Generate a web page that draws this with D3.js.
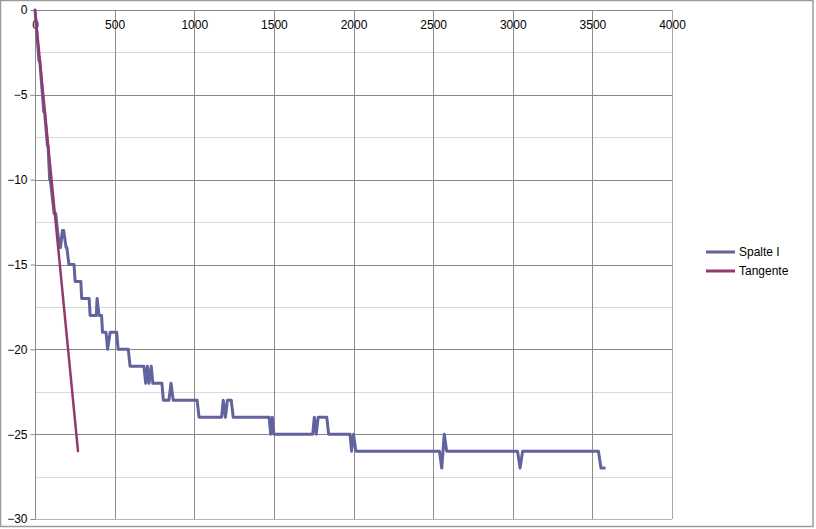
<!DOCTYPE html>
<html>
<head>
<meta charset="utf-8">
<script src="https://cdn.jsdelivr.net/npm/d3@7"></script>
<style>
  html, body { margin: 0; padding: 0; background: #ffffff; }
  svg { display: block; }
  text { font-family: "Liberation Sans", Arial, sans-serif; fill: #000; }
</style>
</head>
<body>
<svg id="chart" width="816" height="529"></svg>
<script>
// ---- data ----
const seriesNames = ["Spalte I", "Tangente"];
const spalteX = [0, 25, 30, 55, 60, 78, 82, 92, 96, 120, 130, 153, 160, 172, 180, 195, 200, 213, 245, 252, 288, 293, 340, 346, 385, 390, 402, 418, 424, 446, 456, 472, 513, 522, 586, 597, 684, 695, 706, 716, 730, 740, 797, 806, 841, 854, 868, 1018, 1030, 1172, 1182, 1196, 1208, 1232, 1245, 1470, 1480, 1490, 1500, 1507, 1744, 1754, 1766, 1778, 1832, 1844, 1978, 1988, 2000, 2015, 2540, 2554, 2570, 2585, 3030, 3046, 3062, 3538, 3554, 3575];
const spalteY = [0, -3, -3, -6, -6, -8, -8, -10, -10, -12, -12, -14, -14, -13, -13, -14, -14, -15, -15, -16, -16, -17, -17, -18, -18, -17, -18, -18, -19, -19, -20, -19, -19, -20, -20, -21, -21, -22, -21, -22, -21, -22, -22, -23, -23, -22, -23, -23, -24, -24, -23, -24, -23, -23, -24, -24, -25, -24, -25, -25, -25, -24, -25, -24, -24, -25, -25, -26, -25, -26, -26, -27, -25, -26, -26, -27, -26, -26, -27, -27];
const tangentX = [0, 270];
const tangentY = [0, -26];
const xTicks = [0, 500, 1000, 1500, 2000, 2500, 3000, 3500, 4000];
const yTicks = [0, -5, -10, -15, -20, -25, -30];
const yMinorTicks = [-2.5, -7.5, -12.5, -17.5, -22.5, -27.5];
const colors = ["#62629f", "#923a6a"];

// ---- layout ----
const svg = d3.select("#chart");
const L = 35, R = 672, T = 10, B = 519;
const x = d3.scaleLinear().domain([0, 4000]).range([L, R]);
const y = d3.scaleLinear().domain([0, -30]).range([T, B]);

// outer frame
svg.append("rect").attr("x", 0.5).attr("y", 0.5).attr("width", 812.5).attr("height", 526)
  .attr("fill", "#fff").attr("stroke", "#9a9a9a").attr("stroke-width", 1.5);

const crisp = v => Math.round(v) + 0.5;

// minor horizontal grid
svg.append("g").selectAll("line").data(yMinorTicks).join("line")
  .attr("x1", L).attr("x2", R)
  .attr("y1", d => crisp(y(d))).attr("y2", d => crisp(y(d)))
  .attr("stroke", "#d9d9d9").attr("stroke-width", 1);

// major horizontal grid
svg.append("g").selectAll("line").data(yTicks.filter(d => d !== 0)).join("line")
  .attr("x1", L).attr("x2", R)
  .attr("y1", d => crisp(y(d))).attr("y2", d => crisp(y(d)))
  .attr("stroke", d => d === -30 ? "#b4b4b4" : "#888888").attr("stroke-width", 1);

// vertical grid
svg.append("g").selectAll("line").data(xTicks.filter(d => d !== 0)).join("line")
  .attr("x1", d => crisp(x(d))).attr("x2", d => crisp(x(d)))
  .attr("y1", T).attr("y2", B)
  .attr("stroke", d => d === 4000 ? "#a8a8a8" : "#8c8c8c").attr("stroke-width", 1);

// x axis (at y = 0, top)
const xAxis = d3.axisBottom(x).tickValues(xTicks).tickSize(0).tickPadding(10).tickFormat(d3.format("d"));
const gx = svg.append("g").attr("transform", `translate(0,${crisp(y(0))})`).call(xAxis);
gx.select(".domain").attr("stroke", "#888888").attr("d", `M${L},0H${R}`);
gx.selectAll("text").attr("font-size", 12).attr("font-family", "Liberation Sans, Arial, sans-serif").attr("fill", "#000");

// y axis (at x = 0)
const yAxis = d3.axisLeft(y).tickValues(yTicks).tickSize(5).tickPadding(3).tickFormat(d3.format("d"));
const gy = svg.append("g").attr("transform", `translate(${crisp(x(0))},0)`).call(yAxis);
gy.select(".domain").attr("stroke", "#888888").attr("d", `M0,${T}V${B}`);
gy.selectAll(".tick line").attr("stroke", "#888888");
gy.selectAll("text").attr("font-size", 12).attr("font-family", "Liberation Sans, Arial, sans-serif").attr("fill", "#000");

// lines
const line = d3.line().x(d => x(d[0])).y(d => y(d[1]));
const spalte = spalteX.map((v, i) => [v, spalteY[i]]);
const tangent = tangentX.map((v, i) => [v, tangentY[i]]);

svg.append("path").datum(spalte).attr("d", line)
  .attr("fill", "none").attr("stroke", colors[0]).attr("stroke-width", 3)
  .attr("stroke-linejoin", "round").attr("stroke-linecap", "round");
svg.append("path").datum(tangent).attr("d", line)
  .attr("fill", "none").attr("stroke", colors[1]).attr("stroke-width", 2.5)
  .attr("stroke-linecap", "round");

// legend
const lg = svg.append("g");
seriesNames.forEach((name, i) => {
  const yy = 252 + i * 19;
  lg.append("line").attr("x1", 706).attr("x2", 735).attr("y1", yy).attr("y2", yy)
    .attr("stroke", colors[i]).attr("stroke-width", 3);
  lg.append("text").attr("x", 739).attr("y", yy).attr("dy", "0.35em")
    .attr("font-size", 12).text(name);
});
</script>
</body>
</html>
